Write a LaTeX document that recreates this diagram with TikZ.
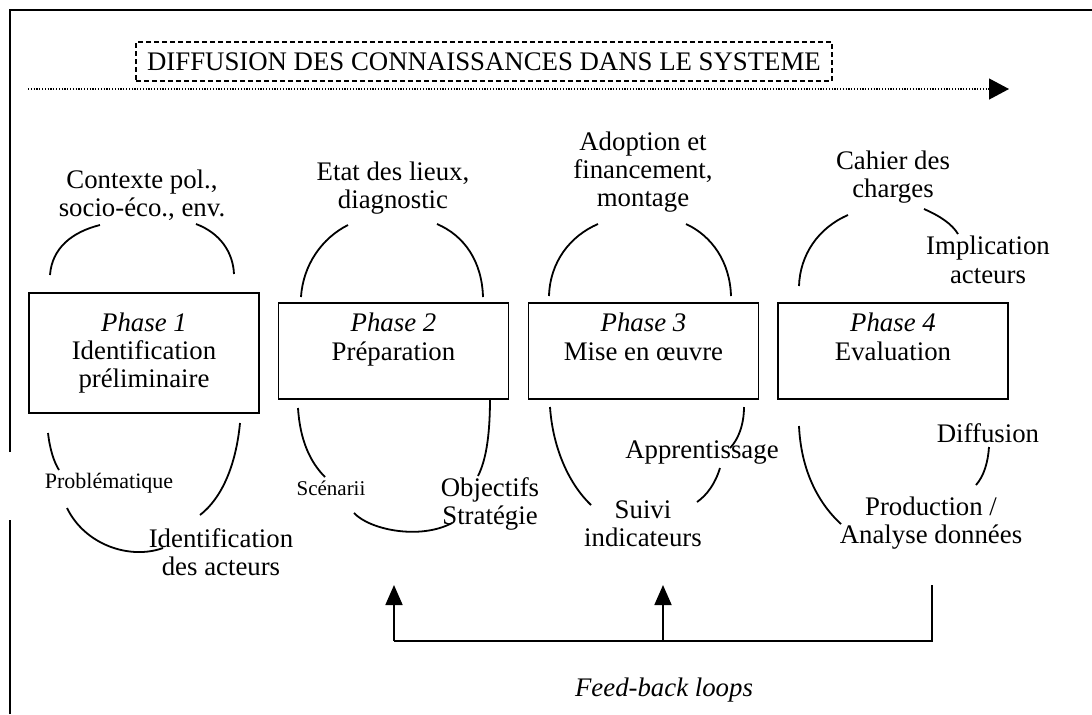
\documentclass[tikz,border=0pt]{standalone}
\usepackage{fontspec}
\setmainfont{Liberation Serif}
\usepackage{tikz}
\usetikzlibrary{arrows.meta}
\tikzset{>={Triangle[length=10pt,width=10.5pt]}}
\tikzset{
  phasebox/.style={draw, line width=0.8pt, minimum width=115pt, minimum height=48pt, align=center, font=\fontsize{13.4}{14.2}\selectfont},
  lbl/.style={align=center, inner sep=0pt, font=\fontsize{13.4}{14.2}\selectfont},
  small/.style={align=center, inner sep=0pt, font=\fontsize{11}{12}\selectfont},
  arc/.style={line width=0.9pt},
}

\begin{document}
\begin{tikzpicture}[x=0.5pt,y=-0.5pt]
  \useasboundingbox (0,0) rectangle (1092,714);
  \draw[line width=1.3pt] (10,714) -- (10,520);
  \draw[line width=1.3pt] (10,452) -- (10,10) -- (1092,10);
  \node[draw, line width=0.9pt, dash pattern=on 2.5pt off 1.5pt, minimum width=348pt, minimum height=19.5pt, font=\fontsize{13.4}{14.2}\selectfont] (titre) at (484,61.5) {DIFFUSION DES CONNAISSANCES DANS LE SYSTEME};
  \coordinate (dstart) at (28,89);
  \coordinate (dend) at (1009,89);
  \draw[->, line width=0.6pt, dash pattern=on 0.6pt off 0.8pt] (dstart) -- (dend);
  \node[phasebox, minimum height=60pt] (p1) at (144,353) {\textit{Phase 1}\\Identification\\préliminaire};
  \node[phasebox] (p2) at (393.5,351) {\textit{Phase 2}\\Préparation\\\mbox{}};
  \node[phasebox] (p3) at (643.5,351) {\textit{Phase 3}\\Mise en œuvre\\\mbox{}};
  \node[phasebox] (p4) at (893,351) {\textit{Phase 4}\\Evaluation\\\mbox{}};
  \node[lbl] (contexte) at (142,195) {Contexte pol.,\\socio-éco., env.};
  \node[lbl] (etat) at (393,188) {Etat des lieux,\\diagnostic};
  \node[lbl] (adoption) at (643,172) {Adoption et\\financement,\\montage};
  \node[lbl] (cahier) at (893,177) {Cahier des\\charges};
  \node[lbl] (implication) at (988,260) {Implication\\acteurs};
  \node[small] (problematique) at (109,483) {Problématique};
  \node[lbl] (identacteurs) at (221,552) {Identification\\des acteurs};
  \node[small, font=\fontsize{10.5}{12}\selectfont] (scenarii) at (331,488) {Scénarii};
  \node[lbl] (objectifs) at (490,504) {Objectifs\\Stratégie};
  \node[lbl] (apprentissage) at (702,453) {Apprentissage};
  \node[lbl] (suivi) at (643,524) {Suivi\\indicateurs};
  \node[lbl] (diffusion) at (988,433) {Diffusion};
  \node[lbl] (production) at (931,523) {Production /\\Analyse données};
  \draw[arc] (50,275) .. controls (52,248) and (72,232) .. (100,225);
  \draw[arc] (196,224) .. controls (220,233) and (233,252) .. (234,274);
  \draw[arc] (301,297) .. controls (303,265) and (322,238) .. (348,225);
  \draw[arc] (437,224) .. controls (465,236) and (482,262) .. (483,297);
  \draw[arc] (549,296) .. controls (550,262) and (570,236) .. (598,224);
  \draw[arc] (686,224) .. controls (712,236) and (730,262) .. (731,296);
  \draw[arc] (799,286) .. controls (800,255) and (818,228) .. (848,215);
  \draw[arc] (924,209) .. controls (940,216) and (952,224) .. (958,234);
  \draw[arc] (48,433) .. controls (50,450) and (54,462) .. (59,470);
  \draw[arc] (67,508) .. controls (85,545) and (130,560) .. (163,548);
  \draw[arc] (240,423) .. controls (236,465) and (222,498) .. (200,515);
  \draw[arc] (298,408) .. controls (300,440) and (310,462) .. (325,477);
  \draw[arc] (354,513) .. controls (370,530) and (420,540) .. (452,523);
  \draw[arc] (490,398) .. controls (490,440) and (485,462) .. (478,476);
  \draw[arc] (550,407) .. controls (553,450) and (570,485) .. (591,505);
  \draw[arc] (744,407) .. controls (744,425) and (738,440) .. (730,448);
  \draw[arc] (720,468) .. controls (715,484) and (707,495) .. (697,502);
  \draw[arc] (799,426) .. controls (801,470) and (818,503) .. (841,524);
  \draw[arc] (989,447) .. controls (988,462) and (984,476) .. (976,485);
  \coordinate (fbR) at (932,585);
  \coordinate (fbB) at (932,641);
  \coordinate (fbL) at (394,641);
  \coordinate (fbM) at (663,641);
  \coordinate (tipL) at (394,585);
  \coordinate (tipM) at (663,585);
  \draw[line width=0.9pt] (fbR) -- (fbB) -- (fbL);
  \draw[->, >={Triangle[length=10pt,width=8.5pt]}, line width=0.9pt] (fbL) -- (tipL);
  \draw[->, >={Triangle[length=10pt,width=8.5pt]}, line width=0.9pt] (fbM) -- (tipM);
  \node[lbl, font=\fontsize{13.4}{14.2}\selectfont\itshape] (feedback) at (664,690) {Feed-back loops};
\end{tikzpicture}
\end{document}
